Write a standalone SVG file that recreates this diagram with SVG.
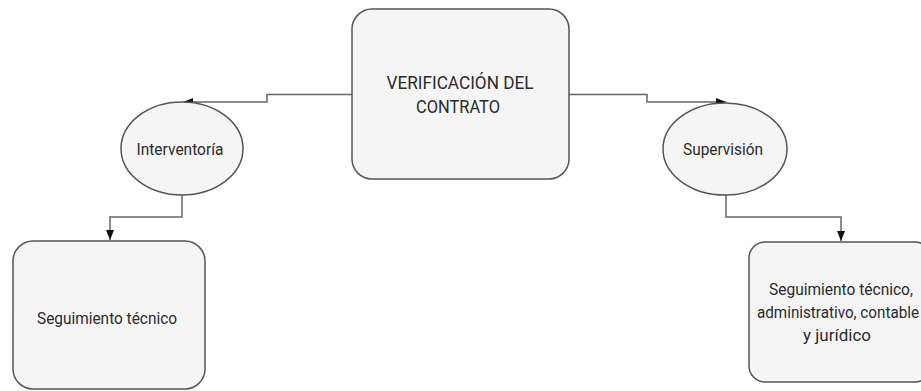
<svg xmlns="http://www.w3.org/2000/svg" width="921" height="391" viewBox="0 0 921 391">
<style>
.node{fill:#f5f5f5;stroke:#555;stroke-width:1.5}
.conn{fill:none;stroke:#666;stroke-width:1.5}
text{font-family:Roboto,"Liberation Sans",sans-serif;fill:#2b2b2b;text-anchor:middle}
.big{font-size:19px}
.sm{font-size:17px}
</style>
<defs>
<marker id="arr" viewBox="0 0 10 8" refX="10" refY="4" markerWidth="11" markerHeight="8" markerUnits="userSpaceOnUse" orient="auto">
<path d="M0,0 L10,4 L0,8 Z" fill="#111"/>
</marker>
</defs>
<g id="connectors">
<path class="conn" d="M352,94.5 H267 V102 H183" marker-end="url(#arr)"/>
<path class="conn" d="M569,94.5 H647 V102 H726" marker-end="url(#arr)"/>
<path class="conn" d="M182,195 V217 H110 V240" marker-end="url(#arr)"/>
<path class="conn" d="M726,195 V217 H841 V241" marker-end="url(#arr)"/>
</g>
<g id="verificacion">
<rect class="node" x="352" y="9" width="217" height="170" rx="20" ry="20"/>
<text class="big" x="460" y="89" textLength="147" lengthAdjust="spacingAndGlyphs">VERIFICACIÓN DEL</text>
<text class="big" x="458" y="113" textLength="84" lengthAdjust="spacingAndGlyphs">CONTRATO</text>
</g>
<g id="interventoria">
<ellipse class="node" cx="182" cy="148.5" rx="61" ry="46.5"/>
<text class="sm" x="180" y="155" textLength="87" lengthAdjust="spacingAndGlyphs">Interventoría</text>
</g>
<g id="supervision">
<ellipse class="node" cx="725" cy="149" rx="62" ry="46"/>
<text class="sm" x="723" y="155" textLength="80" lengthAdjust="spacingAndGlyphs">Supervisión</text>
</g>
<g id="seguimiento-tecnico">
<rect class="node" x="13" y="241" width="192" height="148" rx="20" ry="20"/>
<text class="sm" x="107" y="324" textLength="140" lengthAdjust="spacingAndGlyphs">Seguimiento técnico</text>
</g>
<g id="seguimiento-integral">
<rect class="node" x="749" y="242" width="182" height="140" rx="16" ry="16"/>
<text class="sm" x="841" y="295" textLength="144" lengthAdjust="spacingAndGlyphs">Seguimiento técnico,</text>
<text class="sm" x="838" y="318" textLength="162" lengthAdjust="spacingAndGlyphs">administrativo, contable</text>
<text class="sm" x="837" y="341" textLength="68" lengthAdjust="spacingAndGlyphs">y jurídico</text>
</g>
</svg>
